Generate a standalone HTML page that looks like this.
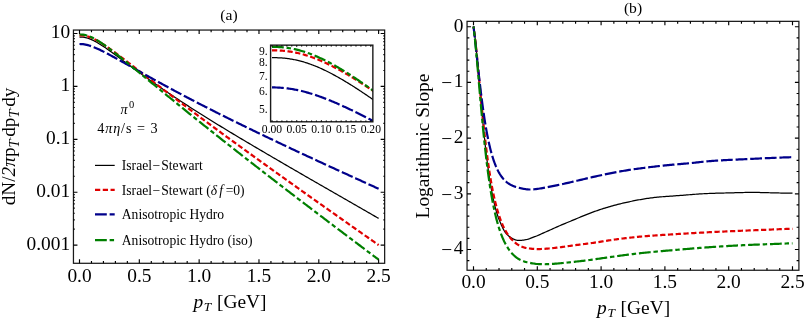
<!DOCTYPE html>
<html><head><meta charset="utf-8"><title>fig</title>
<style>html,body{margin:0;padding:0;background:#fff;}svg{display:block;}</style></head>
<body>
<svg width="806" height="322" viewBox="0 0 806 322">
<rect x="0" y="0" width="806" height="322" fill="#ffffff"/>
<defs>
<clipPath id="ca"><rect x="73.45" y="30.05" width="311.20" height="233.25"/></clipPath>
<clipPath id="ci"><rect x="270.60" y="45.15" width="102.25" height="76.65"/></clipPath>
<clipPath id="cb"><rect x="467.05" y="21.35" width="331.85" height="248.90"/></clipPath>
<filter id="gray" x="0" y="0" width="806" height="322" filterUnits="userSpaceOnUse" color-interpolation-filters="sRGB"><feColorMatrix type="saturate" values="0"/></filter>
</defs>
<path d="M79.50,37.01 L80.70,37.03 L81.89,37.09 L83.09,37.20 L84.29,37.37 L85.48,37.60 L86.68,37.89 L87.88,38.24 L89.07,38.64 L90.27,39.10 L91.47,39.60 L92.66,40.15 L93.86,40.74 L95.05,41.37 L96.25,42.03 L97.45,42.71 L98.64,43.43 L99.84,44.16 L101.04,44.92 L102.23,45.70 L103.43,46.49 L104.63,47.29 L105.82,48.11 L107.02,48.94 L108.22,49.78 L109.41,50.63 L110.61,51.49 L111.81,52.35 L113.00,53.22 L114.20,54.09 L115.40,54.96 L116.59,55.84 L117.79,56.72 L118.98,57.60 L120.18,58.49 L121.38,59.37 L122.57,60.26 L123.77,61.14 L124.97,62.03 L126.16,62.91 L127.36,63.80 L128.56,64.68 L129.75,65.56 L130.95,66.44 L132.15,67.32 L133.34,68.20 L134.54,69.07 L135.74,69.95 L136.93,70.82 L138.13,71.69 L139.32,72.55 L140.52,73.42 L141.72,74.28 L142.91,75.14 L144.11,76.00 L145.31,76.86 L146.50,77.71 L147.70,78.56 L148.90,79.41 L150.09,80.25 L151.29,81.10 L152.49,81.94 L153.68,82.78 L154.88,83.62 L156.08,84.45 L157.27,85.28 L158.47,86.11 L159.67,86.94 L160.86,87.76 L162.06,88.59 L163.25,89.41 L164.45,90.22 L165.65,91.04 L166.84,91.85 L168.04,92.66 L169.24,93.47 L170.43,94.28 L171.63,95.09 L172.83,95.89 L174.02,96.69 L175.22,97.49 L176.42,98.28 L177.61,99.08 L178.81,99.87 L180.01,100.66 L181.20,101.45 L182.40,102.23 L183.60,103.01 L184.79,103.79 L185.99,104.57 L187.19,105.35 L188.38,106.12 L189.58,106.90 L190.77,107.67 L191.97,108.44 L193.17,109.20 L194.36,109.97 L195.56,110.73 L196.76,111.49 L197.95,112.25 L199.15,113.01 L200.35,113.76 L201.54,114.52 L202.74,115.27 L203.94,116.02 L205.13,116.77 L206.33,117.52 L207.53,118.26 L208.72,119.01 L209.92,119.75 L211.12,120.49 L212.31,121.23 L213.51,121.97 L214.70,122.71 L215.90,123.45 L217.10,124.18 L218.29,124.91 L219.49,125.65 L220.69,126.38 L221.88,127.11 L223.08,127.84 L224.28,128.56 L225.47,129.29 L226.67,130.01 L227.87,130.74 L229.06,131.46 L230.26,132.18 L231.46,132.90 L232.65,133.62 L233.85,134.34 L235.05,135.06 L236.24,135.78 L237.44,136.49 L238.63,137.21 L239.83,137.92 L241.03,138.63 L242.22,139.35 L243.42,140.06 L244.62,140.77 L245.81,141.48 L247.01,142.19 L248.21,142.90 L249.40,143.61 L250.60,144.31 L251.80,145.02 L252.99,145.73 L254.19,146.43 L255.39,147.14 L256.58,147.84 L257.78,148.55 L258.98,149.25 L260.17,149.96 L261.37,150.66 L262.56,151.36 L263.76,152.06 L264.96,152.77 L266.15,153.47 L267.35,154.17 L268.55,154.87 L269.74,155.57 L270.94,156.27 L272.14,156.97 L273.33,157.67 L274.53,158.37 L275.73,159.07 L276.92,159.77 L278.12,160.47 L279.32,161.16 L280.51,161.86 L281.71,162.56 L282.90,163.25 L284.10,163.95 L285.30,164.65 L286.49,165.34 L287.69,166.04 L288.89,166.73 L290.08,167.42 L291.28,168.12 L292.48,168.81 L293.67,169.50 L294.87,170.20 L296.07,170.89 L297.26,171.58 L298.46,172.27 L299.66,172.96 L300.85,173.65 L302.05,174.35 L303.25,175.04 L304.44,175.73 L305.64,176.42 L306.84,177.11 L308.03,177.80 L309.23,178.49 L310.42,179.18 L311.62,179.87 L312.82,180.56 L314.01,181.25 L315.21,181.94 L316.41,182.63 L317.60,183.31 L318.80,184.00 L320.00,184.69 L321.19,185.38 L322.39,186.07 L323.59,186.76 L324.78,187.45 L325.98,188.13 L327.18,188.82 L328.37,189.51 L329.57,190.20 L330.76,190.89 L331.96,191.57 L333.16,192.26 L334.35,192.95 L335.55,193.63 L336.75,194.32 L337.94,195.01 L339.14,195.69 L340.34,196.38 L341.53,197.07 L342.73,197.76 L343.93,198.44 L345.12,199.13 L346.32,199.82 L347.52,200.50 L348.71,201.19 L349.91,201.88 L351.11,202.57 L352.30,203.25 L353.50,203.94 L354.70,204.63 L355.89,205.32 L357.09,206.00 L358.28,206.69 L359.48,207.38 L360.68,208.07 L361.87,208.76 L363.07,209.45 L364.27,210.14 L365.46,210.83 L366.66,211.52 L367.86,212.20 L369.05,212.89 L370.25,213.58 L371.45,214.27 L372.64,214.96 L373.84,215.65 L375.04,216.34 L376.23,217.03 L377.43,217.72 L378.62,218.41" fill="none" stroke="#000000" stroke-width="1.25" clip-path="url(#ca)"/>
<path d="M79.50,35.30 L80.70,35.32 L81.89,35.38 L83.09,35.49 L84.29,35.65 L85.48,35.88 L86.68,36.16 L87.88,36.49 L89.07,36.88 L90.27,37.31 L91.47,37.80 L92.66,38.32 L93.86,38.89 L95.05,39.49 L96.25,40.12 L97.45,40.79 L98.64,41.48 L99.84,42.19 L101.04,42.93 L102.23,43.68 L103.43,44.46 L104.63,45.25 L105.82,46.05 L107.02,46.87 L108.22,47.70 L109.41,48.54 L110.61,49.39 L111.81,50.24 L113.00,51.11 L114.20,51.98 L115.40,52.86 L116.59,53.75 L117.79,54.64 L118.98,55.53 L120.18,56.43 L121.38,57.33 L122.57,58.24 L123.77,59.14 L124.97,60.05 L126.16,60.97 L127.36,61.88 L128.56,62.80 L129.75,63.71 L130.95,64.63 L132.15,65.55 L133.34,66.47 L134.54,67.39 L135.74,68.31 L136.93,69.23 L138.13,70.15 L139.32,71.07 L140.52,72.00 L141.72,72.92 L142.91,73.84 L144.11,74.76 L145.31,75.68 L146.50,76.60 L147.70,77.52 L148.90,78.44 L150.09,79.36 L151.29,80.28 L152.49,81.20 L153.68,82.11 L154.88,83.03 L156.08,83.95 L157.27,84.86 L158.47,85.78 L159.67,86.69 L160.86,87.61 L162.06,88.52 L163.25,89.43 L164.45,90.35 L165.65,91.26 L166.84,92.17 L168.04,93.08 L169.24,93.99 L170.43,94.90 L171.63,95.80 L172.83,96.71 L174.02,97.62 L175.22,98.52 L176.42,99.43 L177.61,100.33 L178.81,101.23 L180.01,102.14 L181.20,103.04 L182.40,103.94 L183.60,104.84 L184.79,105.74 L185.99,106.64 L187.19,107.54 L188.38,108.44 L189.58,109.33 L190.77,110.23 L191.97,111.13 L193.17,112.02 L194.36,112.92 L195.56,113.81 L196.76,114.70 L197.95,115.59 L199.15,116.49 L200.35,117.38 L201.54,118.27 L202.74,119.15 L203.94,120.04 L205.13,120.93 L206.33,121.81 L207.53,122.70 L208.72,123.58 L209.92,124.47 L211.12,125.35 L212.31,126.23 L213.51,127.11 L214.70,128.00 L215.90,128.88 L217.10,129.75 L218.29,130.63 L219.49,131.51 L220.69,132.39 L221.88,133.27 L223.08,134.14 L224.28,135.02 L225.47,135.89 L226.67,136.77 L227.87,137.64 L229.06,138.51 L230.26,139.39 L231.46,140.26 L232.65,141.13 L233.85,142.00 L235.05,142.87 L236.24,143.74 L237.44,144.61 L238.63,145.48 L239.83,146.35 L241.03,147.22 L242.22,148.08 L243.42,148.95 L244.62,149.82 L245.81,150.68 L247.01,151.55 L248.21,152.42 L249.40,153.28 L250.60,154.15 L251.80,155.01 L252.99,155.88 L254.19,156.74 L255.39,157.60 L256.58,158.47 L257.78,159.33 L258.98,160.19 L260.17,161.05 L261.37,161.92 L262.56,162.78 L263.76,163.64 L264.96,164.50 L266.15,165.36 L267.35,166.22 L268.55,167.08 L269.74,167.94 L270.94,168.80 L272.14,169.66 L273.33,170.52 L274.53,171.38 L275.73,172.23 L276.92,173.09 L278.12,173.95 L279.32,174.81 L280.51,175.66 L281.71,176.52 L282.90,177.37 L284.10,178.23 L285.30,179.09 L286.49,179.94 L287.69,180.80 L288.89,181.65 L290.08,182.50 L291.28,183.36 L292.48,184.21 L293.67,185.07 L294.87,185.92 L296.07,186.77 L297.26,187.62 L298.46,188.48 L299.66,189.33 L300.85,190.18 L302.05,191.03 L303.25,191.88 L304.44,192.73 L305.64,193.58 L306.84,194.43 L308.03,195.28 L309.23,196.13 L310.42,196.98 L311.62,197.83 L312.82,198.68 L314.01,199.53 L315.21,200.38 L316.41,201.23 L317.60,202.08 L318.80,202.92 L320.00,203.77 L321.19,204.62 L322.39,205.47 L323.59,206.31 L324.78,207.16 L325.98,208.01 L327.18,208.85 L328.37,209.70 L329.57,210.55 L330.76,211.39 L331.96,212.24 L333.16,213.08 L334.35,213.93 L335.55,214.77 L336.75,215.62 L337.94,216.46 L339.14,217.31 L340.34,218.15 L341.53,218.99 L342.73,219.84 L343.93,220.68 L345.12,221.52 L346.32,222.37 L347.52,223.21 L348.71,224.05 L349.91,224.89 L351.11,225.74 L352.30,226.58 L353.50,227.42 L354.70,228.26 L355.89,229.10 L357.09,229.94 L358.28,230.78 L359.48,231.63 L360.68,232.47 L361.87,233.31 L363.07,234.15 L364.27,234.99 L365.46,235.83 L366.66,236.66 L367.86,237.50 L369.05,238.34 L370.25,239.18 L371.45,240.02 L372.64,240.86 L373.84,241.70 L375.04,242.53 L376.23,243.37 L377.43,244.21 L378.62,245.05" fill="none" stroke="#e00000" stroke-width="2.20" stroke-dasharray="5.25 2.52" clip-path="url(#ca)"/>
<path d="M79.50,44.00 L80.70,44.03 L81.89,44.10 L83.09,44.21 L84.29,44.38 L85.48,44.59 L86.68,44.85 L87.88,45.15 L89.07,45.50 L90.27,45.87 L91.47,46.28 L92.66,46.72 L93.86,47.19 L95.05,47.68 L96.25,48.20 L97.45,48.73 L98.64,49.28 L99.84,49.84 L101.04,50.42 L102.23,51.01 L103.43,51.61 L104.63,52.22 L105.82,52.84 L107.02,53.46 L108.22,54.09 L109.41,54.73 L110.61,55.37 L111.81,56.02 L113.00,56.67 L114.20,57.32 L115.40,57.98 L116.59,58.64 L117.79,59.30 L118.98,59.96 L120.18,60.63 L121.38,61.29 L122.57,61.96 L123.77,62.63 L124.97,63.30 L126.16,63.97 L127.36,64.64 L128.56,65.32 L129.75,65.99 L130.95,66.66 L132.15,67.34 L133.34,68.01 L134.54,68.69 L135.74,69.36 L136.93,70.04 L138.13,70.71 L139.32,71.38 L140.52,72.05 L141.72,72.72 L142.91,73.40 L144.11,74.06 L145.31,74.73 L146.50,75.40 L147.70,76.07 L148.90,76.73 L150.09,77.40 L151.29,78.06 L152.49,78.72 L153.68,79.38 L154.88,80.04 L156.08,80.70 L157.27,81.36 L158.47,82.02 L159.67,82.67 L160.86,83.33 L162.06,83.98 L163.25,84.64 L164.45,85.29 L165.65,85.94 L166.84,86.59 L168.04,87.23 L169.24,87.88 L170.43,88.53 L171.63,89.17 L172.83,89.81 L174.02,90.45 L175.22,91.10 L176.42,91.73 L177.61,92.37 L178.81,93.01 L180.01,93.65 L181.20,94.28 L182.40,94.91 L183.60,95.54 L184.79,96.17 L185.99,96.80 L187.19,97.43 L188.38,98.06 L189.58,98.68 L190.77,99.31 L191.97,99.93 L193.17,100.55 L194.36,101.18 L195.56,101.80 L196.76,102.41 L197.95,103.03 L199.15,103.65 L200.35,104.26 L201.54,104.88 L202.74,105.49 L203.94,106.10 L205.13,106.71 L206.33,107.32 L207.53,107.93 L208.72,108.54 L209.92,109.14 L211.12,109.75 L212.31,110.35 L213.51,110.96 L214.70,111.56 L215.90,112.16 L217.10,112.76 L218.29,113.36 L219.49,113.96 L220.69,114.56 L221.88,115.15 L223.08,115.75 L224.28,116.34 L225.47,116.94 L226.67,117.53 L227.87,118.12 L229.06,118.72 L230.26,119.31 L231.46,119.90 L232.65,120.49 L233.85,121.08 L235.05,121.66 L236.24,122.25 L237.44,122.84 L238.63,123.42 L239.83,124.01 L241.03,124.59 L242.22,125.18 L243.42,125.76 L244.62,126.34 L245.81,126.93 L247.01,127.51 L248.21,128.09 L249.40,128.67 L250.60,129.25 L251.80,129.83 L252.99,130.41 L254.19,130.98 L255.39,131.56 L256.58,132.14 L257.78,132.71 L258.98,133.29 L260.17,133.86 L261.37,134.44 L262.56,135.01 L263.76,135.59 L264.96,136.16 L266.15,136.73 L267.35,137.30 L268.55,137.87 L269.74,138.44 L270.94,139.02 L272.14,139.59 L273.33,140.16 L274.53,140.72 L275.73,141.29 L276.92,141.86 L278.12,142.43 L279.32,143.00 L280.51,143.56 L281.71,144.13 L282.90,144.70 L284.10,145.26 L285.30,145.83 L286.49,146.39 L287.69,146.95 L288.89,147.52 L290.08,148.08 L291.28,148.64 L292.48,149.20 L293.67,149.76 L294.87,150.32 L296.07,150.88 L297.26,151.44 L298.46,152.00 L299.66,152.56 L300.85,153.12 L302.05,153.67 L303.25,154.23 L304.44,154.79 L305.64,155.34 L306.84,155.90 L308.03,156.45 L309.23,157.01 L310.42,157.56 L311.62,158.12 L312.82,158.67 L314.01,159.22 L315.21,159.78 L316.41,160.33 L317.60,160.88 L318.80,161.44 L320.00,161.99 L321.19,162.54 L322.39,163.09 L323.59,163.64 L324.78,164.20 L325.98,164.75 L327.18,165.30 L328.37,165.85 L329.57,166.40 L330.76,166.95 L331.96,167.50 L333.16,168.05 L334.35,168.60 L335.55,169.15 L336.75,169.70 L337.94,170.24 L339.14,170.79 L340.34,171.34 L341.53,171.89 L342.73,172.44 L343.93,172.98 L345.12,173.53 L346.32,174.08 L347.52,174.62 L348.71,175.17 L349.91,175.72 L351.11,176.26 L352.30,176.81 L353.50,177.35 L354.70,177.90 L355.89,178.44 L357.09,178.99 L358.28,179.53 L359.48,180.08 L360.68,180.62 L361.87,181.17 L363.07,181.71 L364.27,182.25 L365.46,182.80 L366.66,183.34 L367.86,183.88 L369.05,184.42 L370.25,184.97 L371.45,185.51 L372.64,186.05 L373.84,186.59 L375.04,187.13 L376.23,187.67 L377.43,188.21 L378.62,188.76" fill="none" stroke="#00008b" stroke-width="2.20" stroke-dasharray="11.80 2.83" clip-path="url(#ca)"/>
<path d="M79.50,34.47 L80.70,34.50 L81.89,34.57 L83.09,34.70 L84.29,34.88 L85.48,35.13 L86.68,35.44 L87.88,35.81 L89.07,36.23 L90.27,36.71 L91.47,37.23 L92.66,37.80 L93.86,38.41 L95.05,39.06 L96.25,39.74 L97.45,40.45 L98.64,41.19 L99.84,41.95 L101.04,42.74 L102.23,43.55 L103.43,44.37 L104.63,45.22 L105.82,46.07 L107.02,46.94 L108.22,47.83 L109.41,48.72 L110.61,49.63 L111.81,50.54 L113.00,51.46 L114.20,52.39 L115.40,53.32 L116.59,54.27 L117.79,55.21 L118.98,56.16 L120.18,57.12 L121.38,58.08 L122.57,59.04 L123.77,60.01 L124.97,60.98 L126.16,61.95 L127.36,62.92 L128.56,63.89 L129.75,64.87 L130.95,65.84 L132.15,66.82 L133.34,67.80 L134.54,68.78 L135.74,69.76 L136.93,70.74 L138.13,71.73 L139.32,72.71 L140.52,73.69 L141.72,74.68 L142.91,75.66 L144.11,76.64 L145.31,77.63 L146.50,78.61 L147.70,79.60 L148.90,80.58 L150.09,81.56 L151.29,82.55 L152.49,83.53 L153.68,84.51 L154.88,85.50 L156.08,86.48 L157.27,87.46 L158.47,88.44 L159.67,89.42 L160.86,90.40 L162.06,91.38 L163.25,92.36 L164.45,93.34 L165.65,94.32 L166.84,95.30 L168.04,96.28 L169.24,97.25 L170.43,98.23 L171.63,99.20 L172.83,100.18 L174.02,101.15 L175.22,102.13 L176.42,103.10 L177.61,104.07 L178.81,105.05 L180.01,106.02 L181.20,106.99 L182.40,107.96 L183.60,108.93 L184.79,109.90 L185.99,110.87 L187.19,111.83 L188.38,112.80 L189.58,113.77 L190.77,114.73 L191.97,115.70 L193.17,116.66 L194.36,117.62 L195.56,118.59 L196.76,119.55 L197.95,120.51 L199.15,121.47 L200.35,122.43 L201.54,123.39 L202.74,124.35 L203.94,125.30 L205.13,126.26 L206.33,127.22 L207.53,128.17 L208.72,129.13 L209.92,130.08 L211.12,131.03 L212.31,131.98 L213.51,132.93 L214.70,133.89 L215.90,134.84 L217.10,135.78 L218.29,136.73 L219.49,137.68 L220.69,138.63 L221.88,139.57 L223.08,140.52 L224.28,141.46 L225.47,142.41 L226.67,143.35 L227.87,144.30 L229.06,145.24 L230.26,146.18 L231.46,147.12 L232.65,148.06 L233.85,149.00 L235.05,149.94 L236.24,150.88 L237.44,151.82 L238.63,152.75 L239.83,153.69 L241.03,154.63 L242.22,155.56 L243.42,156.50 L244.62,157.43 L245.81,158.37 L247.01,159.30 L248.21,160.23 L249.40,161.17 L250.60,162.10 L251.80,163.03 L252.99,163.96 L254.19,164.89 L255.39,165.82 L256.58,166.75 L257.78,167.68 L258.98,168.61 L260.17,169.54 L261.37,170.47 L262.56,171.40 L263.76,172.32 L264.96,173.25 L266.15,174.18 L267.35,175.10 L268.55,176.03 L269.74,176.95 L270.94,177.88 L272.14,178.80 L273.33,179.72 L274.53,180.65 L275.73,181.57 L276.92,182.49 L278.12,183.41 L279.32,184.33 L280.51,185.26 L281.71,186.18 L282.90,187.10 L284.10,188.02 L285.30,188.93 L286.49,189.85 L287.69,190.77 L288.89,191.69 L290.08,192.61 L291.28,193.52 L292.48,194.44 L293.67,195.36 L294.87,196.27 L296.07,197.19 L297.26,198.10 L298.46,199.02 L299.66,199.93 L300.85,200.85 L302.05,201.76 L303.25,202.67 L304.44,203.58 L305.64,204.50 L306.84,205.41 L308.03,206.32 L309.23,207.23 L310.42,208.14 L311.62,209.05 L312.82,209.96 L314.01,210.87 L315.21,211.78 L316.41,212.69 L317.60,213.60 L318.80,214.51 L320.00,215.42 L321.19,216.33 L322.39,217.23 L323.59,218.14 L324.78,219.05 L325.98,219.96 L327.18,220.86 L328.37,221.77 L329.57,222.67 L330.76,223.58 L331.96,224.49 L333.16,225.39 L334.35,226.30 L335.55,227.20 L336.75,228.11 L337.94,229.01 L339.14,229.91 L340.34,230.82 L341.53,231.72 L342.73,232.63 L343.93,233.53 L345.12,234.43 L346.32,235.34 L347.52,236.24 L348.71,237.14 L349.91,238.04 L351.11,238.94 L352.30,239.85 L353.50,240.75 L354.70,241.65 L355.89,242.55 L357.09,243.45 L358.28,244.35 L359.48,245.25 L360.68,246.15 L361.87,247.05 L363.07,247.95 L364.27,248.85 L365.46,249.75 L366.66,250.65 L367.86,251.55 L369.05,252.45 L370.25,253.35 L371.45,254.25 L372.64,255.15 L373.84,256.05 L375.04,256.94 L376.23,257.84 L377.43,258.74 L378.62,259.64" fill="none" stroke="#007f00" stroke-width="2.20" stroke-dasharray="11.80 2.83 4.44 2.83" stroke-dashoffset="4.00" clip-path="url(#ca)"/>
<path d="M272.00,57.66 L272.99,57.66 L273.98,57.67 L274.96,57.69 L275.95,57.71 L276.94,57.73 L277.93,57.77 L278.92,57.81 L279.90,57.86 L280.89,57.92 L281.88,57.99 L282.87,58.06 L283.86,58.15 L284.84,58.24 L285.83,58.35 L286.82,58.46 L287.81,58.59 L288.80,58.72 L289.78,58.86 L290.77,59.02 L291.76,59.18 L292.75,59.36 L293.74,59.54 L294.72,59.74 L295.71,59.94 L296.70,60.16 L297.69,60.39 L298.68,60.62 L299.66,60.87 L300.65,61.13 L301.64,61.39 L302.63,61.67 L303.62,61.96 L304.60,62.25 L305.59,62.56 L306.58,62.88 L307.57,63.20 L308.56,63.54 L309.54,63.88 L310.53,64.23 L311.52,64.60 L312.51,64.97 L313.50,65.35 L314.48,65.74 L315.47,66.13 L316.46,66.54 L317.45,66.95 L318.44,67.37 L319.42,67.80 L320.41,68.24 L321.40,68.69 L322.39,69.14 L323.38,69.60 L324.36,70.07 L325.35,70.54 L326.34,71.03 L327.33,71.51 L328.32,72.01 L329.30,72.51 L330.29,73.02 L331.28,73.53 L332.27,74.06 L333.26,74.58 L334.24,75.12 L335.23,75.65 L336.22,76.20 L337.21,76.75 L338.20,77.31 L339.18,77.87 L340.17,78.43 L341.16,79.00 L342.15,79.58 L343.14,80.16 L344.12,80.75 L345.11,81.34 L346.10,81.93 L347.09,82.53 L348.08,83.13 L349.06,83.74 L350.05,84.35 L351.04,84.97 L352.03,85.59 L353.02,86.21 L354.00,86.84 L354.99,87.47 L355.98,88.11 L356.97,88.75 L357.96,89.39 L358.94,90.03 L359.93,90.68 L360.92,91.33 L361.91,91.99 L362.90,92.65 L363.88,93.31 L364.87,93.97 L365.86,94.64 L366.85,95.30 L367.84,95.98 L368.82,96.65 L369.81,97.33 L370.80,98.00 L371.79,98.69 L372.78,99.37 L373.76,100.05 L374.75,100.74 L375.74,101.43" fill="none" stroke="#000000" stroke-width="1.25" clip-path="url(#ci)"/>
<path d="M272.00,50.36 L272.99,50.36 L273.98,50.37 L274.96,50.38 L275.95,50.41 L276.94,50.43 L277.93,50.47 L278.92,50.51 L279.90,50.57 L280.89,50.63 L281.88,50.69 L282.87,50.77 L283.86,50.86 L284.84,50.95 L285.83,51.05 L286.82,51.17 L287.81,51.29 L288.80,51.42 L289.78,51.56 L290.77,51.71 L291.76,51.87 L292.75,52.05 L293.74,52.23 L294.72,52.41 L295.71,52.61 L296.70,52.82 L297.69,53.04 L298.68,53.27 L299.66,53.51 L300.65,53.75 L301.64,54.01 L302.63,54.28 L303.62,54.55 L304.60,54.84 L305.59,55.13 L306.58,55.43 L307.57,55.75 L308.56,56.07 L309.54,56.40 L310.53,56.73 L311.52,57.08 L312.51,57.44 L313.50,57.80 L314.48,58.17 L315.47,58.55 L316.46,58.94 L317.45,59.34 L318.44,59.74 L319.42,60.15 L320.41,60.57 L321.40,61.00 L322.39,61.43 L323.38,61.87 L324.36,62.32 L325.35,62.77 L326.34,63.24 L327.33,63.70 L328.32,64.18 L329.30,64.66 L330.29,65.15 L331.28,65.64 L332.27,66.14 L333.26,66.65 L334.24,67.16 L335.23,67.68 L336.22,68.20 L337.21,68.73 L338.20,69.26 L339.18,69.80 L340.17,70.35 L341.16,70.90 L342.15,71.45 L343.14,72.02 L344.12,72.58 L345.11,73.15 L346.10,73.72 L347.09,74.30 L348.08,74.89 L349.06,75.47 L350.05,76.07 L351.04,76.66 L352.03,77.26 L353.02,77.87 L354.00,78.48 L354.99,79.09 L355.98,79.70 L356.97,80.32 L357.96,80.95 L358.94,81.57 L359.93,82.21 L360.92,82.84 L361.91,83.48 L362.90,84.12 L363.88,84.76 L364.87,85.41 L365.86,86.06 L366.85,86.71 L367.84,87.37 L368.82,88.03 L369.81,88.69 L370.80,89.35 L371.79,90.02 L372.78,90.69 L373.76,91.36 L374.75,92.04 L375.74,92.72" fill="none" stroke="#e00000" stroke-width="2.20" stroke-dasharray="5.25 2.52" clip-path="url(#ci)"/>
<path d="M272.00,87.42 L272.99,87.43 L273.98,87.44 L274.96,87.46 L275.95,87.48 L276.94,87.52 L277.93,87.56 L278.92,87.61 L279.90,87.67 L280.89,87.74 L281.88,87.81 L282.87,87.90 L283.86,87.99 L284.84,88.09 L285.83,88.20 L286.82,88.32 L287.81,88.44 L288.80,88.58 L289.78,88.72 L290.77,88.87 L291.76,89.03 L292.75,89.19 L293.74,89.37 L294.72,89.55 L295.71,89.74 L296.70,89.94 L297.69,90.14 L298.68,90.36 L299.66,90.58 L300.65,90.81 L301.64,91.04 L302.63,91.28 L303.62,91.53 L304.60,91.79 L305.59,92.05 L306.58,92.33 L307.57,92.60 L308.56,92.89 L309.54,93.18 L310.53,93.47 L311.52,93.78 L312.51,94.09 L313.50,94.40 L314.48,94.73 L315.47,95.05 L316.46,95.39 L317.45,95.72 L318.44,96.07 L319.42,96.42 L320.41,96.77 L321.40,97.13 L322.39,97.50 L323.38,97.87 L324.36,98.24 L325.35,98.62 L326.34,99.01 L327.33,99.40 L328.32,99.79 L329.30,100.19 L330.29,100.59 L331.28,101.00 L332.27,101.41 L333.26,101.82 L334.24,102.24 L335.23,102.67 L336.22,103.09 L337.21,103.52 L338.20,103.95 L339.18,104.39 L340.17,104.83 L341.16,105.28 L342.15,105.72 L343.14,106.17 L344.12,106.63 L345.11,107.08 L346.10,107.54 L347.09,108.00 L348.08,108.47 L349.06,108.94 L350.05,109.41 L351.04,109.88 L352.03,110.36 L353.02,110.83 L354.00,111.31 L354.99,111.80 L355.98,112.28 L356.97,112.77 L357.96,113.26 L358.94,113.75 L359.93,114.25 L360.92,114.74 L361.91,115.24 L362.90,115.74 L363.88,116.24 L364.87,116.75 L365.86,117.25 L366.85,117.76 L367.84,118.27 L368.82,118.78 L369.81,119.29 L370.80,119.81 L371.79,120.32 L372.78,120.84 L373.76,121.36 L374.75,121.88 L375.74,122.40" fill="none" stroke="#00008b" stroke-width="2.20" stroke-dasharray="11.80 2.83" clip-path="url(#ci)"/>
<path d="M272.00,46.85 L272.99,46.85 L273.98,46.86 L274.96,46.88 L275.95,46.91 L276.94,46.94 L277.93,46.98 L278.92,47.04 L279.90,47.10 L280.89,47.17 L281.88,47.25 L282.87,47.34 L283.86,47.44 L284.84,47.55 L285.83,47.66 L286.82,47.79 L287.81,47.93 L288.80,48.08 L289.78,48.24 L290.77,48.41 L291.76,48.59 L292.75,48.79 L293.74,48.99 L294.72,49.20 L295.71,49.42 L296.70,49.66 L297.69,49.90 L298.68,50.15 L299.66,50.42 L300.65,50.69 L301.64,50.97 L302.63,51.27 L303.62,51.57 L304.60,51.88 L305.59,52.21 L306.58,52.54 L307.57,52.88 L308.56,53.23 L309.54,53.59 L310.53,53.96 L311.52,54.34 L312.51,54.73 L313.50,55.13 L314.48,55.53 L315.47,55.94 L316.46,56.37 L317.45,56.80 L318.44,57.23 L319.42,57.68 L320.41,58.13 L321.40,58.60 L322.39,59.07 L323.38,59.54 L324.36,60.03 L325.35,60.52 L326.34,61.02 L327.33,61.52 L328.32,62.03 L329.30,62.55 L330.29,63.08 L331.28,63.61 L332.27,64.15 L333.26,64.69 L334.24,65.25 L335.23,65.80 L336.22,66.37 L337.21,66.93 L338.20,67.51 L339.18,68.09 L340.17,68.67 L341.16,69.26 L342.15,69.86 L343.14,70.46 L344.12,71.07 L345.11,71.68 L346.10,72.29 L347.09,72.91 L348.08,73.54 L349.06,74.17 L350.05,74.80 L351.04,75.44 L352.03,76.08 L353.02,76.73 L354.00,77.38 L354.99,78.03 L355.98,78.69 L356.97,79.36 L357.96,80.02 L358.94,80.69 L359.93,81.37 L360.92,82.04 L361.91,82.72 L362.90,83.41 L363.88,84.10 L364.87,84.79 L365.86,85.48 L366.85,86.18 L367.84,86.88 L368.82,87.58 L369.81,88.29 L370.80,89.00 L371.79,89.71 L372.78,90.42 L373.76,91.14 L374.75,91.86 L375.74,92.58" fill="none" stroke="#007f00" stroke-width="2.20" stroke-dasharray="11.80 2.83 4.44 2.83" clip-path="url(#ci)"/>
<path d="M473.50,26.50 L473.76,27.94 L474.01,29.55 L474.27,31.31 L474.52,33.20 L474.78,35.22 L475.03,37.36 L475.29,39.60 L475.54,41.94 L475.80,44.36 L476.05,46.87 L476.31,49.44 L476.56,52.07 L476.82,54.77 L477.07,57.51 L477.33,60.29 L477.58,63.11 L477.84,65.95 L478.09,68.83 L478.35,71.72 L478.60,74.63 L478.86,77.54 L479.11,80.47 L479.37,83.39 L479.62,86.31 L479.88,89.23 L480.14,92.14 L480.39,95.04 L480.65,97.92 L480.90,100.78 L481.16,103.63 L481.41,106.45 L481.67,109.25 L481.92,112.02 L482.18,114.77 L482.43,117.48 L482.69,120.16 L482.94,122.82 L483.20,125.43 L483.45,128.02 L483.71,130.56 L483.96,133.07 L484.22,135.55 L484.47,137.98 L484.73,140.38 L484.98,142.74 L485.24,145.06 L485.49,147.34 L485.75,149.59 L486.00,151.79 L486.26,153.95 L486.52,156.07 L486.77,158.16 L487.03,160.20 L487.28,162.21 L487.54,164.18 L487.79,166.10 L488.05,167.99 L488.30,169.84 L488.56,171.66 L488.81,173.43 L489.07,175.17 L489.32,176.88 L489.58,178.54 L489.83,180.17 L490.09,181.77 L490.34,183.33 L490.60,184.86 L490.85,186.35 L491.11,187.81 L491.36,189.24 L491.62,190.64 L491.87,192.00 L492.13,193.33 L492.38,194.63 L492.64,195.91 L492.90,197.15 L493.15,198.36 L493.41,199.55 L493.66,200.71 L493.92,201.84 L494.17,202.94 L494.43,204.02 L494.68,205.07 L494.94,206.10 L495.19,207.10 L495.45,208.08 L495.70,209.04 L495.96,209.97 L496.21,210.88 L496.47,211.77 L496.72,212.63 L496.98,213.47 L497.23,214.28 L497.49,215.07 L497.74,215.83 L498.00,216.57 L498.25,217.30 L498.51,218.00 L498.76,218.68 L499.02,219.35 L499.28,220.00 L499.53,220.64 L499.79,221.27 L500.04,221.89 L500.30,222.51 L500.55,223.11 L500.81,223.70 L501.06,224.29 L501.32,224.87 L501.57,225.44 L501.83,226.00 L502.08,226.55 L502.34,227.09 L502.59,227.62 L502.85,228.14 L503.10,228.65 L503.36,229.15 L503.61,229.63 L503.87,230.10 L504.12,230.55 L504.38,230.98 L504.63,231.40 L504.89,231.80 L505.14,232.18 L505.40,232.54 L505.66,232.89 L505.91,233.22 L506.17,233.53 L506.42,233.84 L506.68,234.12 L506.93,234.40 L507.19,234.66 L507.44,234.91 L507.70,235.15 L507.95,235.38 L508.21,235.61 L508.46,235.82 L508.72,236.03 L508.97,236.23 L509.23,236.43 L509.48,236.62 L509.74,236.81 L509.99,236.99 L510.25,237.17 L510.50,237.34 L510.76,237.51 L511.01,237.67 L511.27,237.83 L511.52,237.99 L511.78,238.14 L512.04,238.29 L512.29,238.43 L512.55,238.57 L512.80,238.71 L513.06,238.84 L513.31,238.97 L513.57,239.09 L513.82,239.21 L514.08,239.33 L514.33,239.44 L514.59,239.55 L514.84,239.65 L515.10,239.75 L515.35,239.84 L515.61,239.93 L515.86,240.01 L516.12,240.08 L516.37,240.15 L516.63,240.21 L516.88,240.26 L517.14,240.31 L517.39,240.34 L517.65,240.38 L517.90,240.40 L518.16,240.42 L518.42,240.43 L518.67,240.44 L518.93,240.44 L519.18,240.44 L519.44,240.43 L519.69,240.42 L519.95,240.41 L520.20,240.40 L520.46,240.38 L520.71,240.36 L520.97,240.35 L521.22,240.33 L521.48,240.30 L521.73,240.28 L521.99,240.26 L522.24,240.24 L522.50,240.21 L522.75,240.19 L523.01,240.16 L523.26,240.13 L523.52,240.10 L523.77,240.07 L524.03,240.04 L524.28,240.00 L524.54,239.96 L525.82,239.74 L527.09,239.44 L528.37,239.06 L529.64,238.63 L530.92,238.15 L532.20,237.67 L533.47,237.19 L534.75,236.71 L536.02,236.23 L537.30,235.72 L538.58,235.19 L539.85,234.63 L541.13,234.04 L542.40,233.44 L543.68,232.85 L544.96,232.28 L546.23,231.72 L547.51,231.17 L548.78,230.61 L550.06,230.04 L551.34,229.46 L552.61,228.87 L553.89,228.28 L555.16,227.70 L556.44,227.13 L557.72,226.56 L558.99,226.00 L560.27,225.45 L561.54,224.90 L562.82,224.36 L564.10,223.83 L565.37,223.30 L566.65,222.78 L567.92,222.26 L569.20,221.73 L570.48,221.21 L571.75,220.68 L573.03,220.15 L574.30,219.62 L575.58,219.08 L576.86,218.54 L578.13,218.01 L579.41,217.47 L580.68,216.93 L581.96,216.40 L583.24,215.87 L584.51,215.35 L585.79,214.83 L587.06,214.32 L588.34,213.82 L589.62,213.32 L590.89,212.84 L592.17,212.37 L593.44,211.90 L594.72,211.44 L596.00,211.00 L597.27,210.56 L598.55,210.12 L599.82,209.70 L601.10,209.28 L602.38,208.87 L603.65,208.47 L604.93,208.07 L606.20,207.68 L607.48,207.29 L608.76,206.92 L610.03,206.55 L611.31,206.18 L612.58,205.82 L613.86,205.47 L615.14,205.13 L616.41,204.79 L617.69,204.46 L618.96,204.14 L620.24,203.82 L621.52,203.51 L622.79,203.21 L624.07,202.91 L625.34,202.62 L626.62,202.33 L627.90,202.05 L629.17,201.77 L630.45,201.50 L631.72,201.24 L633.00,200.98 L634.28,200.72 L635.55,200.47 L636.83,200.22 L638.10,199.98 L639.38,199.75 L640.66,199.52 L641.93,199.30 L643.21,199.08 L644.48,198.87 L645.76,198.67 L647.04,198.48 L648.31,198.29 L649.59,198.11 L650.86,197.94 L652.14,197.78 L653.42,197.63 L654.69,197.48 L655.97,197.34 L657.24,197.21 L658.52,197.09 L659.80,196.97 L661.07,196.86 L662.35,196.75 L663.62,196.65 L664.90,196.55 L666.18,196.46 L667.45,196.36 L668.73,196.27 L670.00,196.18 L671.28,196.10 L672.56,196.01 L673.83,195.92 L675.11,195.83 L676.38,195.74 L677.66,195.64 L678.94,195.55 L680.21,195.45 L681.49,195.36 L682.76,195.26 L684.04,195.16 L685.32,195.06 L686.59,194.96 L687.87,194.85 L689.14,194.75 L690.42,194.65 L691.70,194.55 L692.97,194.45 L694.25,194.35 L695.52,194.25 L696.80,194.16 L698.08,194.07 L699.35,193.98 L700.63,193.90 L701.90,193.82 L703.18,193.75 L704.46,193.68 L705.73,193.62 L707.01,193.56 L708.28,193.50 L709.56,193.45 L710.84,193.41 L712.11,193.36 L713.39,193.32 L714.66,193.28 L715.94,193.24 L717.22,193.20 L718.49,193.17 L719.77,193.13 L721.04,193.10 L722.32,193.07 L723.60,193.03 L724.87,193.00 L726.15,192.97 L727.42,192.93 L728.70,192.90 L729.98,192.86 L731.25,192.83 L732.53,192.79 L733.80,192.76 L735.08,192.72 L736.36,192.69 L737.63,192.66 L738.91,192.62 L740.18,192.59 L741.46,192.56 L742.74,192.53 L744.01,192.50 L745.29,192.48 L746.56,192.46 L747.84,192.44 L749.12,192.42 L750.39,192.41 L751.67,192.41 L752.94,192.41 L754.22,192.41 L755.50,192.42 L756.77,192.44 L758.05,192.46 L759.32,192.48 L760.60,192.51 L761.88,192.54 L763.15,192.57 L764.43,192.60 L765.70,192.64 L766.98,192.68 L768.26,192.72 L769.53,192.75 L770.81,192.79 L772.08,192.83 L773.36,192.86 L774.64,192.89 L775.91,192.92 L777.19,192.95 L778.46,192.98 L779.74,193.00 L781.02,193.02 L782.29,193.04 L783.57,193.06 L784.84,193.08 L786.12,193.10 L787.40,193.12 L788.67,193.13 L789.95,193.14 L791.22,193.16 L792.50,193.17" fill="none" stroke="#000000" stroke-width="1.25" clip-path="url(#cb)"/>
<path d="M473.50,26.50 L473.76,28.10 L474.01,29.83 L474.27,31.67 L474.52,33.62 L474.78,35.66 L475.03,37.80 L475.29,40.02 L475.54,42.31 L475.80,44.67 L476.05,47.09 L476.31,49.56 L476.56,52.09 L476.82,54.65 L477.07,57.26 L477.33,59.90 L477.58,62.56 L477.84,65.25 L478.09,67.96 L478.35,70.69 L478.60,73.42 L478.86,76.16 L479.11,78.91 L479.37,81.66 L479.62,84.40 L479.88,87.14 L480.14,89.87 L480.39,92.59 L480.65,95.30 L480.90,97.99 L481.16,100.66 L481.41,103.32 L481.67,105.95 L481.92,108.56 L482.18,111.15 L482.43,113.71 L482.69,116.25 L482.94,118.76 L483.20,121.23 L483.45,123.68 L483.71,126.10 L483.96,128.49 L484.22,130.84 L484.47,133.17 L484.73,135.46 L484.98,137.71 L485.24,139.94 L485.49,142.12 L485.75,144.28 L486.00,146.40 L486.26,148.49 L486.52,150.54 L486.77,152.56 L487.03,154.54 L487.28,156.49 L487.54,158.41 L487.79,160.29 L488.05,162.14 L488.30,163.96 L488.56,165.74 L488.81,167.49 L489.07,169.21 L489.32,170.89 L489.58,172.55 L489.83,174.17 L490.09,175.77 L490.34,177.33 L490.60,178.86 L490.85,180.36 L491.11,181.84 L491.36,183.28 L491.62,184.70 L491.87,186.09 L492.13,187.45 L492.38,188.78 L492.64,190.09 L492.90,191.37 L493.15,192.63 L493.41,193.86 L493.66,195.06 L493.92,196.24 L494.17,197.40 L494.43,198.54 L494.68,199.65 L494.94,200.74 L495.19,201.80 L495.45,202.85 L495.70,203.87 L495.96,204.88 L496.21,205.86 L496.47,206.82 L496.72,207.76 L496.98,208.69 L497.23,209.59 L497.49,210.48 L497.74,211.34 L498.00,212.19 L498.25,213.03 L498.51,213.84 L498.76,214.64 L499.02,215.42 L499.28,216.19 L499.53,216.94 L499.79,217.68 L500.04,218.40 L500.30,219.10 L500.55,219.79 L500.81,220.47 L501.06,221.13 L501.32,221.78 L501.57,222.42 L501.83,223.04 L502.08,223.65 L502.34,224.25 L502.59,224.83 L502.85,225.40 L503.10,225.97 L503.36,226.51 L503.61,227.05 L503.87,227.58 L504.12,228.10 L504.38,228.60 L504.63,229.10 L504.89,229.58 L505.14,230.06 L505.40,230.53 L505.66,230.98 L505.91,231.43 L506.17,231.87 L506.42,232.29 L506.68,232.71 L506.93,233.12 L507.19,233.53 L507.44,233.92 L507.70,234.31 L507.95,234.69 L508.21,235.06 L508.46,235.42 L508.72,235.77 L508.97,236.12 L509.23,236.46 L509.48,236.80 L509.74,237.12 L509.99,237.44 L510.25,237.75 L510.50,238.06 L510.76,238.36 L511.01,238.66 L511.27,238.94 L511.52,239.23 L511.78,239.50 L512.04,239.77 L512.29,240.04 L512.55,240.30 L512.80,240.55 L513.06,240.80 L513.31,241.05 L513.57,241.29 L513.82,241.53 L514.08,241.76 L514.33,241.99 L514.59,242.21 L514.84,242.43 L515.10,242.64 L515.35,242.85 L515.61,243.06 L515.86,243.25 L516.12,243.45 L516.37,243.64 L516.63,243.83 L516.88,244.01 L517.14,244.18 L517.39,244.36 L517.65,244.52 L517.90,244.69 L518.16,244.85 L518.42,245.00 L518.67,245.15 L518.93,245.30 L519.18,245.44 L519.44,245.58 L519.69,245.71 L519.95,245.84 L520.20,245.97 L520.46,246.09 L520.71,246.21 L520.97,246.32 L521.22,246.43 L521.48,246.54 L521.73,246.64 L521.99,246.74 L522.24,246.84 L522.50,246.93 L522.75,247.02 L523.01,247.10 L523.26,247.19 L523.52,247.27 L523.77,247.34 L524.03,247.42 L524.28,247.49 L524.54,247.56 L525.82,247.86 L527.09,248.11 L528.37,248.32 L529.64,248.49 L530.92,248.64 L532.20,248.78 L533.47,248.88 L534.75,248.96 L536.02,249.01 L537.30,249.04 L538.58,249.04 L539.85,249.03 L541.13,248.99 L542.40,248.94 L543.68,248.87 L544.96,248.79 L546.23,248.70 L547.51,248.60 L548.78,248.50 L550.06,248.38 L551.34,248.26 L552.61,248.13 L553.89,247.99 L555.16,247.85 L556.44,247.71 L557.72,247.56 L558.99,247.40 L560.27,247.24 L561.54,247.08 L562.82,246.91 L564.10,246.74 L565.37,246.56 L566.65,246.38 L567.92,246.20 L569.20,246.02 L570.48,245.84 L571.75,245.66 L573.03,245.48 L574.30,245.30 L575.58,245.13 L576.86,244.96 L578.13,244.79 L579.41,244.62 L580.68,244.46 L581.96,244.30 L583.24,244.14 L584.51,243.98 L585.79,243.82 L587.06,243.66 L588.34,243.50 L589.62,243.34 L590.89,243.16 L592.17,242.99 L593.44,242.81 L594.72,242.62 L596.00,242.43 L597.27,242.24 L598.55,242.04 L599.82,241.84 L601.10,241.64 L602.38,241.44 L603.65,241.23 L604.93,241.03 L606.20,240.83 L607.48,240.63 L608.76,240.43 L610.03,240.24 L611.31,240.05 L612.58,239.87 L613.86,239.69 L615.14,239.51 L616.41,239.33 L617.69,239.16 L618.96,239.00 L620.24,238.83 L621.52,238.67 L622.79,238.51 L624.07,238.36 L625.34,238.21 L626.62,238.06 L627.90,237.91 L629.17,237.77 L630.45,237.63 L631.72,237.49 L633.00,237.35 L634.28,237.22 L635.55,237.09 L636.83,236.96 L638.10,236.84 L639.38,236.72 L640.66,236.60 L641.93,236.48 L643.21,236.37 L644.48,236.26 L645.76,236.16 L647.04,236.05 L648.31,235.95 L649.59,235.85 L650.86,235.75 L652.14,235.66 L653.42,235.57 L654.69,235.48 L655.97,235.39 L657.24,235.30 L658.52,235.22 L659.80,235.13 L661.07,235.05 L662.35,234.97 L663.62,234.89 L664.90,234.81 L666.18,234.73 L667.45,234.65 L668.73,234.57 L670.00,234.49 L671.28,234.41 L672.56,234.34 L673.83,234.26 L675.11,234.18 L676.38,234.10 L677.66,234.02 L678.94,233.95 L680.21,233.87 L681.49,233.79 L682.76,233.71 L684.04,233.64 L685.32,233.56 L686.59,233.48 L687.87,233.41 L689.14,233.33 L690.42,233.25 L691.70,233.18 L692.97,233.10 L694.25,233.03 L695.52,232.96 L696.80,232.88 L698.08,232.81 L699.35,232.74 L700.63,232.67 L701.90,232.60 L703.18,232.53 L704.46,232.46 L705.73,232.39 L707.01,232.33 L708.28,232.26 L709.56,232.20 L710.84,232.13 L712.11,232.07 L713.39,232.01 L714.66,231.95 L715.94,231.88 L717.22,231.82 L718.49,231.76 L719.77,231.71 L721.04,231.65 L722.32,231.59 L723.60,231.53 L724.87,231.48 L726.15,231.42 L727.42,231.36 L728.70,231.31 L729.98,231.25 L731.25,231.20 L732.53,231.14 L733.80,231.09 L735.08,231.03 L736.36,230.98 L737.63,230.93 L738.91,230.87 L740.18,230.82 L741.46,230.77 L742.74,230.71 L744.01,230.66 L745.29,230.61 L746.56,230.56 L747.84,230.50 L749.12,230.45 L750.39,230.40 L751.67,230.35 L752.94,230.30 L754.22,230.25 L755.50,230.20 L756.77,230.14 L758.05,230.09 L759.32,230.04 L760.60,229.99 L761.88,229.94 L763.15,229.89 L764.43,229.84 L765.70,229.79 L766.98,229.73 L768.26,229.68 L769.53,229.63 L770.81,229.58 L772.08,229.52 L773.36,229.47 L774.64,229.42 L775.91,229.37 L777.19,229.31 L778.46,229.26 L779.74,229.21 L781.02,229.16 L782.29,229.11 L783.57,229.06 L784.84,229.01 L786.12,228.96 L787.40,228.92 L788.67,228.88 L789.95,228.85 L791.22,228.82 L792.50,228.79" fill="none" stroke="#e00000" stroke-width="2.20" stroke-dasharray="5.25 2.52" stroke-dashoffset="2.70" clip-path="url(#cb)"/>
<path d="M473.50,26.50 L473.76,28.63 L474.01,30.81 L474.27,33.02 L474.52,35.26 L474.78,37.53 L475.03,39.82 L475.29,42.13 L475.54,44.45 L475.80,46.79 L476.05,49.14 L476.31,51.49 L476.56,53.85 L476.82,56.21 L477.07,58.57 L477.33,60.92 L477.58,63.26 L477.84,65.60 L478.09,67.92 L478.35,70.24 L478.60,72.53 L478.86,74.81 L479.11,77.08 L479.37,79.32 L479.62,81.54 L479.88,83.74 L480.14,85.91 L480.39,88.06 L480.65,90.19 L480.90,92.29 L481.16,94.36 L481.41,96.40 L481.67,98.42 L481.92,100.40 L482.18,102.35 L482.43,104.28 L482.69,106.17 L482.94,108.04 L483.20,109.87 L483.45,111.67 L483.71,113.44 L483.96,115.18 L484.22,116.88 L484.47,118.56 L484.73,120.20 L484.98,121.81 L485.24,123.39 L485.49,124.94 L485.75,126.46 L486.00,127.95 L486.26,129.41 L486.52,130.84 L486.77,132.24 L487.03,133.61 L487.28,134.95 L487.54,136.26 L487.79,137.55 L488.05,138.81 L488.30,140.04 L488.56,141.24 L488.81,142.41 L489.07,143.56 L489.32,144.69 L489.58,145.79 L489.83,146.86 L490.09,147.92 L490.34,148.94 L490.60,149.95 L490.85,150.93 L491.11,151.88 L491.36,152.82 L491.62,153.74 L491.87,154.63 L492.13,155.50 L492.38,156.35 L492.64,157.19 L492.90,158.00 L493.15,158.79 L493.41,159.57 L493.66,160.32 L493.92,161.06 L494.17,161.78 L494.43,162.49 L494.68,163.18 L494.94,163.85 L495.19,164.50 L495.45,165.14 L495.70,165.77 L495.96,166.38 L496.21,166.97 L496.47,167.55 L496.72,168.12 L496.98,168.67 L497.23,169.21 L497.49,169.74 L497.74,170.25 L498.00,170.75 L498.25,171.24 L498.51,171.72 L498.76,172.19 L499.02,172.64 L499.28,173.09 L499.53,173.52 L499.79,173.94 L500.04,174.35 L500.30,174.75 L500.55,175.15 L500.81,175.53 L501.06,175.90 L501.32,176.27 L501.57,176.62 L501.83,176.97 L502.08,177.31 L502.34,177.63 L502.59,177.96 L502.85,178.27 L503.10,178.57 L503.36,178.87 L503.61,179.16 L503.87,179.44 L504.12,179.72 L504.38,179.99 L504.63,180.25 L504.89,180.51 L505.14,180.76 L505.40,181.00 L505.66,181.24 L505.91,181.47 L506.17,181.69 L506.42,181.91 L506.68,182.12 L506.93,182.33 L507.19,182.53 L507.44,182.73 L507.70,182.92 L507.95,183.11 L508.21,183.29 L508.46,183.46 L508.72,183.64 L508.97,183.80 L509.23,183.97 L509.48,184.13 L509.74,184.28 L509.99,184.43 L510.25,184.58 L510.50,184.72 L510.76,184.86 L511.01,184.99 L511.27,185.12 L511.52,185.25 L511.78,185.37 L512.04,185.49 L512.29,185.60 L512.55,185.72 L512.80,185.83 L513.06,185.93 L513.31,186.04 L513.57,186.14 L513.82,186.23 L514.08,186.33 L514.33,186.42 L514.59,186.51 L514.84,186.60 L515.10,186.69 L515.35,186.77 L515.61,186.86 L515.86,186.94 L516.12,187.02 L516.37,187.09 L516.63,187.17 L516.88,187.24 L517.14,187.32 L517.39,187.39 L517.65,187.46 L517.90,187.53 L518.16,187.60 L518.42,187.66 L518.67,187.73 L518.93,187.79 L519.18,187.86 L519.44,187.92 L519.69,187.98 L519.95,188.04 L520.20,188.11 L520.46,188.16 L520.71,188.22 L520.97,188.28 L521.22,188.34 L521.48,188.39 L521.73,188.45 L521.99,188.50 L522.24,188.56 L522.50,188.61 L522.75,188.66 L523.01,188.71 L523.26,188.76 L523.52,188.81 L523.77,188.85 L524.03,188.90 L524.28,188.95 L524.54,188.99 L525.82,189.19 L527.09,189.34 L528.37,189.45 L529.64,189.50 L530.92,189.48 L532.20,189.42 L533.47,189.33 L534.75,189.21 L536.02,189.06 L537.30,188.90 L538.58,188.72 L539.85,188.52 L541.13,188.31 L542.40,188.09 L543.68,187.86 L544.96,187.62 L546.23,187.38 L547.51,187.13 L548.78,186.88 L550.06,186.62 L551.34,186.37 L552.61,186.11 L553.89,185.85 L555.16,185.59 L556.44,185.32 L557.72,185.06 L558.99,184.79 L560.27,184.52 L561.54,184.25 L562.82,183.98 L564.10,183.70 L565.37,183.42 L566.65,183.14 L567.92,182.85 L569.20,182.56 L570.48,182.27 L571.75,181.98 L573.03,181.68 L574.30,181.38 L575.58,181.08 L576.86,180.78 L578.13,180.47 L579.41,180.17 L580.68,179.87 L581.96,179.56 L583.24,179.26 L584.51,178.96 L585.79,178.66 L587.06,178.36 L588.34,178.07 L589.62,177.77 L590.89,177.48 L592.17,177.19 L593.44,176.90 L594.72,176.62 L596.00,176.33 L597.27,176.05 L598.55,175.77 L599.82,175.49 L601.10,175.22 L602.38,174.94 L603.65,174.67 L604.93,174.40 L606.20,174.13 L607.48,173.87 L608.76,173.61 L610.03,173.35 L611.31,173.09 L612.58,172.84 L613.86,172.59 L615.14,172.35 L616.41,172.11 L617.69,171.87 L618.96,171.64 L620.24,171.42 L621.52,171.19 L622.79,170.97 L624.07,170.76 L625.34,170.55 L626.62,170.34 L627.90,170.14 L629.17,169.94 L630.45,169.75 L631.72,169.56 L633.00,169.37 L634.28,169.19 L635.55,169.01 L636.83,168.83 L638.10,168.65 L639.38,168.48 L640.66,168.31 L641.93,168.14 L643.21,167.98 L644.48,167.81 L645.76,167.65 L647.04,167.49 L648.31,167.33 L649.59,167.18 L650.86,167.02 L652.14,166.87 L653.42,166.72 L654.69,166.57 L655.97,166.43 L657.24,166.28 L658.52,166.14 L659.80,166.00 L661.07,165.86 L662.35,165.72 L663.62,165.58 L664.90,165.45 L666.18,165.32 L667.45,165.19 L668.73,165.06 L670.00,164.94 L671.28,164.82 L672.56,164.70 L673.83,164.59 L675.11,164.47 L676.38,164.36 L677.66,164.25 L678.94,164.15 L680.21,164.04 L681.49,163.93 L682.76,163.83 L684.04,163.72 L685.32,163.61 L686.59,163.49 L687.87,163.37 L689.14,163.25 L690.42,163.13 L691.70,163.00 L692.97,162.86 L694.25,162.73 L695.52,162.59 L696.80,162.45 L698.08,162.30 L699.35,162.16 L700.63,162.02 L701.90,161.88 L703.18,161.74 L704.46,161.61 L705.73,161.48 L707.01,161.36 L708.28,161.24 L709.56,161.13 L710.84,161.03 L712.11,160.93 L713.39,160.83 L714.66,160.74 L715.94,160.66 L717.22,160.57 L718.49,160.50 L719.77,160.42 L721.04,160.35 L722.32,160.28 L723.60,160.21 L724.87,160.15 L726.15,160.08 L727.42,160.02 L728.70,159.96 L729.98,159.89 L731.25,159.83 L732.53,159.77 L733.80,159.71 L735.08,159.65 L736.36,159.59 L737.63,159.53 L738.91,159.47 L740.18,159.41 L741.46,159.35 L742.74,159.29 L744.01,159.23 L745.29,159.17 L746.56,159.11 L747.84,159.05 L749.12,158.99 L750.39,158.93 L751.67,158.87 L752.94,158.81 L754.22,158.75 L755.50,158.69 L756.77,158.63 L758.05,158.57 L759.32,158.51 L760.60,158.45 L761.88,158.40 L763.15,158.34 L764.43,158.28 L765.70,158.22 L766.98,158.16 L768.26,158.11 L769.53,158.05 L770.81,157.99 L772.08,157.94 L773.36,157.88 L774.64,157.82 L775.91,157.77 L777.19,157.71 L778.46,157.66 L779.74,157.61 L781.02,157.55 L782.29,157.50 L783.57,157.45 L784.84,157.41 L786.12,157.36 L787.40,157.32 L788.67,157.28 L789.95,157.24 L791.22,157.21 L792.50,157.18" fill="none" stroke="#00008b" stroke-width="2.20" stroke-dasharray="11.80 2.83" stroke-dashoffset="0.80" clip-path="url(#cb)"/>
<path d="M473.50,26.50 L473.76,28.50 L474.01,30.61 L474.27,32.82 L474.52,35.12 L474.78,37.52 L475.03,39.98 L475.29,42.52 L475.54,45.13 L475.80,47.79 L476.05,50.50 L476.31,53.26 L476.56,56.06 L476.82,58.90 L477.07,61.76 L477.33,64.65 L477.58,67.56 L477.84,70.48 L478.09,73.42 L478.35,76.37 L478.60,79.32 L478.86,82.27 L479.11,85.22 L479.37,88.16 L479.62,91.09 L479.88,94.02 L480.14,96.93 L480.39,99.82 L480.65,102.70 L480.90,105.56 L481.16,108.39 L481.41,111.20 L481.67,113.99 L481.92,116.74 L482.18,119.47 L482.43,122.17 L482.69,124.84 L482.94,127.48 L483.20,130.08 L483.45,132.66 L483.71,135.19 L483.96,137.70 L484.22,140.16 L484.47,142.59 L484.73,144.99 L484.98,147.35 L485.24,149.67 L485.49,151.96 L485.75,154.21 L486.00,156.42 L486.26,158.60 L486.52,160.74 L486.77,162.84 L487.03,164.91 L487.28,166.94 L487.54,168.93 L487.79,170.89 L488.05,172.81 L488.30,174.70 L488.56,176.55 L488.81,178.37 L489.07,180.15 L489.32,181.90 L489.58,183.62 L489.83,185.31 L490.09,186.96 L490.34,188.58 L490.60,190.17 L490.85,191.73 L491.11,193.25 L491.36,194.75 L491.62,196.22 L491.87,197.66 L492.13,199.07 L492.38,200.45 L492.64,201.80 L492.90,203.13 L493.15,204.43 L493.41,205.71 L493.66,206.96 L493.92,208.18 L494.17,209.38 L494.43,210.55 L494.68,211.70 L494.94,212.83 L495.19,213.94 L495.45,215.02 L495.70,216.08 L495.96,217.12 L496.21,218.13 L496.47,219.13 L496.72,220.11 L496.98,221.06 L497.23,222.00 L497.49,222.92 L497.74,223.82 L498.00,224.70 L498.25,225.56 L498.51,226.41 L498.76,227.23 L499.02,228.05 L499.28,228.84 L499.53,229.62 L499.79,230.38 L500.04,231.13 L500.30,231.86 L500.55,232.58 L500.81,233.28 L501.06,233.97 L501.32,234.64 L501.57,235.30 L501.83,235.95 L502.08,236.58 L502.34,237.21 L502.59,237.81 L502.85,238.41 L503.10,238.99 L503.36,239.57 L503.61,240.13 L503.87,240.68 L504.12,241.22 L504.38,241.74 L504.63,242.26 L504.89,242.77 L505.14,243.26 L505.40,243.75 L505.66,244.23 L505.91,244.69 L506.17,245.15 L506.42,245.60 L506.68,246.04 L506.93,246.47 L507.19,246.89 L507.44,247.30 L507.70,247.71 L507.95,248.10 L508.21,248.49 L508.46,248.87 L508.72,249.25 L508.97,249.61 L509.23,249.97 L509.48,250.32 L509.74,250.67 L509.99,251.01 L510.25,251.34 L510.50,251.66 L510.76,251.98 L511.01,252.29 L511.27,252.59 L511.52,252.89 L511.78,253.18 L512.04,253.47 L512.29,253.75 L512.55,254.02 L512.80,254.29 L513.06,254.56 L513.31,254.81 L513.57,255.06 L513.82,255.31 L514.08,255.55 L514.33,255.78 L514.59,256.01 L514.84,256.24 L515.10,256.46 L515.35,256.67 L515.61,256.88 L515.86,257.08 L516.12,257.28 L516.37,257.48 L516.63,257.67 L516.88,257.85 L517.14,258.03 L517.39,258.21 L517.65,258.38 L517.90,258.55 L518.16,258.71 L518.42,258.87 L518.67,259.02 L518.93,259.17 L519.18,259.32 L519.44,259.46 L519.69,259.60 L519.95,259.73 L520.20,259.86 L520.46,259.99 L520.71,260.11 L520.97,260.23 L521.22,260.35 L521.48,260.46 L521.73,260.57 L521.99,260.68 L522.24,260.78 L522.50,260.88 L522.75,260.98 L523.01,261.07 L523.26,261.17 L523.52,261.25 L523.77,261.34 L524.03,261.43 L524.28,261.51 L524.54,261.59 L525.82,261.95 L527.09,262.28 L528.37,262.57 L529.64,262.84 L530.92,263.09 L532.20,263.32 L533.47,263.53 L534.75,263.71 L536.02,263.86 L537.30,263.98 L538.58,264.08 L539.85,264.16 L541.13,264.21 L542.40,264.23 L543.68,264.24 L544.96,264.23 L546.23,264.21 L547.51,264.17 L548.78,264.11 L550.06,264.05 L551.34,263.98 L552.61,263.90 L553.89,263.81 L555.16,263.71 L556.44,263.61 L557.72,263.50 L558.99,263.39 L560.27,263.27 L561.54,263.15 L562.82,263.02 L564.10,262.90 L565.37,262.77 L566.65,262.63 L567.92,262.50 L569.20,262.37 L570.48,262.23 L571.75,262.09 L573.03,261.95 L574.30,261.81 L575.58,261.67 L576.86,261.53 L578.13,261.38 L579.41,261.24 L580.68,261.09 L581.96,260.94 L583.24,260.79 L584.51,260.64 L585.79,260.48 L587.06,260.33 L588.34,260.17 L589.62,260.00 L590.89,259.83 L592.17,259.66 L593.44,259.49 L594.72,259.31 L596.00,259.13 L597.27,258.95 L598.55,258.77 L599.82,258.58 L601.10,258.39 L602.38,258.20 L603.65,258.01 L604.93,257.83 L606.20,257.64 L607.48,257.45 L608.76,257.27 L610.03,257.08 L611.31,256.90 L612.58,256.72 L613.86,256.54 L615.14,256.36 L616.41,256.19 L617.69,256.01 L618.96,255.84 L620.24,255.67 L621.52,255.50 L622.79,255.33 L624.07,255.17 L625.34,255.00 L626.62,254.84 L627.90,254.68 L629.17,254.52 L630.45,254.36 L631.72,254.20 L633.00,254.05 L634.28,253.89 L635.55,253.74 L636.83,253.60 L638.10,253.45 L639.38,253.31 L640.66,253.16 L641.93,253.02 L643.21,252.89 L644.48,252.75 L645.76,252.62 L647.04,252.49 L648.31,252.36 L649.59,252.23 L650.86,252.11 L652.14,251.99 L653.42,251.86 L654.69,251.74 L655.97,251.63 L657.24,251.51 L658.52,251.39 L659.80,251.28 L661.07,251.17 L662.35,251.06 L663.62,250.94 L664.90,250.83 L666.18,250.72 L667.45,250.61 L668.73,250.50 L670.00,250.40 L671.28,250.29 L672.56,250.18 L673.83,250.07 L675.11,249.96 L676.38,249.85 L677.66,249.74 L678.94,249.64 L680.21,249.53 L681.49,249.42 L682.76,249.31 L684.04,249.20 L685.32,249.10 L686.59,248.99 L687.87,248.88 L689.14,248.78 L690.42,248.67 L691.70,248.57 L692.97,248.46 L694.25,248.36 L695.52,248.25 L696.80,248.15 L698.08,248.05 L699.35,247.95 L700.63,247.85 L701.90,247.76 L703.18,247.66 L704.46,247.56 L705.73,247.47 L707.01,247.38 L708.28,247.28 L709.56,247.19 L710.84,247.10 L712.11,247.02 L713.39,246.93 L714.66,246.84 L715.94,246.76 L717.22,246.67 L718.49,246.59 L719.77,246.51 L721.04,246.42 L722.32,246.34 L723.60,246.26 L724.87,246.19 L726.15,246.11 L727.42,246.03 L728.70,245.96 L729.98,245.88 L731.25,245.81 L732.53,245.74 L733.80,245.67 L735.08,245.60 L736.36,245.54 L737.63,245.47 L738.91,245.41 L740.18,245.34 L741.46,245.28 L742.74,245.22 L744.01,245.16 L745.29,245.10 L746.56,245.04 L747.84,244.99 L749.12,244.93 L750.39,244.88 L751.67,244.83 L752.94,244.77 L754.22,244.72 L755.50,244.67 L756.77,244.62 L758.05,244.57 L759.32,244.52 L760.60,244.47 L761.88,244.42 L763.15,244.37 L764.43,244.32 L765.70,244.27 L766.98,244.22 L768.26,244.17 L769.53,244.12 L770.81,244.08 L772.08,244.03 L773.36,243.98 L774.64,243.93 L775.91,243.88 L777.19,243.83 L778.46,243.78 L779.74,243.73 L781.02,243.68 L782.29,243.64 L783.57,243.59 L784.84,243.55 L786.12,243.51 L787.40,243.47 L788.67,243.43 L789.95,243.40 L791.22,243.37 L792.50,243.35" fill="none" stroke="#007f00" stroke-width="2.20" stroke-dasharray="11.80 2.83 4.44 2.83" stroke-dashoffset="9.70" clip-path="url(#cb)"/>
<rect x="73.45" y="30.05" width="311.20" height="233.25" stroke="#1a1a1a" stroke-width="1.25" fill="none"/>
<rect x="467.05" y="21.35" width="331.85" height="248.90" stroke="#1a1a1a" stroke-width="1.25" fill="none"/>
<rect x="270.60" y="45.15" width="102.25" height="76.65" stroke="#1a1a1a" stroke-width="1.40" fill="none"/>
<path d="M79.50,263.30 L79.50,259.30 M79.50,30.05 L79.50,34.05 M91.47,263.30 L91.47,261.00 M91.47,30.05 L91.47,32.35 M103.43,263.30 L103.43,261.00 M103.43,30.05 L103.43,32.35 M115.40,263.30 L115.40,261.00 M115.40,30.05 L115.40,32.35 M127.36,263.30 L127.36,261.00 M127.36,30.05 L127.36,32.35 M139.32,263.30 L139.32,259.30 M139.32,30.05 L139.32,34.05 M151.29,263.30 L151.29,261.00 M151.29,30.05 L151.29,32.35 M163.25,263.30 L163.25,261.00 M163.25,30.05 L163.25,32.35 M175.22,263.30 L175.22,261.00 M175.22,30.05 L175.22,32.35 M187.19,263.30 L187.19,261.00 M187.19,30.05 L187.19,32.35 M199.15,263.30 L199.15,259.30 M199.15,30.05 L199.15,34.05 M211.12,263.30 L211.12,261.00 M211.12,30.05 L211.12,32.35 M223.08,263.30 L223.08,261.00 M223.08,30.05 L223.08,32.35 M235.05,263.30 L235.05,261.00 M235.05,30.05 L235.05,32.35 M247.01,263.30 L247.01,261.00 M247.01,30.05 L247.01,32.35 M258.98,263.30 L258.98,259.30 M258.98,30.05 L258.98,34.05 M270.94,263.30 L270.94,261.00 M270.94,30.05 L270.94,32.35 M282.90,263.30 L282.90,261.00 M282.90,30.05 L282.90,32.35 M294.87,263.30 L294.87,261.00 M294.87,30.05 L294.87,32.35 M306.84,263.30 L306.84,261.00 M306.84,30.05 L306.84,32.35 M318.80,263.30 L318.80,259.30 M318.80,30.05 L318.80,34.05 M330.76,263.30 L330.76,261.00 M330.76,30.05 L330.76,32.35 M342.73,263.30 L342.73,261.00 M342.73,30.05 L342.73,32.35 M354.69,263.30 L354.69,261.00 M354.69,30.05 L354.69,32.35 M366.66,263.30 L366.66,261.00 M366.66,30.05 L366.66,32.35 M378.62,263.30 L378.62,259.30 M378.62,30.05 L378.62,34.05 M73.45,245.10 L77.45,245.10 M384.65,245.10 L380.65,245.10 M73.45,229.18 L74.75,229.18 M384.65,229.18 L383.35,229.18 M73.45,219.86 L74.75,219.86 M384.65,219.86 L383.35,219.86 M73.45,213.25 L74.75,213.25 M384.65,213.25 L383.35,213.25 M73.45,208.12 L74.75,208.12 M384.65,208.12 L383.35,208.12 M73.45,203.94 L74.75,203.94 M384.65,203.94 L383.35,203.94 M73.45,200.39 L74.75,200.39 M384.65,200.39 L383.35,200.39 M73.45,197.33 L74.75,197.33 M384.65,197.33 L383.35,197.33 M73.45,194.62 L74.75,194.62 M384.65,194.62 L383.35,194.62 M73.45,192.20 L77.45,192.20 M384.65,192.20 L380.65,192.20 M73.45,176.28 L74.75,176.28 M384.65,176.28 L383.35,176.28 M73.45,166.96 L74.75,166.96 M384.65,166.96 L383.35,166.96 M73.45,160.35 L74.75,160.35 M384.65,160.35 L383.35,160.35 M73.45,155.22 L74.75,155.22 M384.65,155.22 L383.35,155.22 M73.45,151.04 L74.75,151.04 M384.65,151.04 L383.35,151.04 M73.45,147.49 L74.75,147.49 M384.65,147.49 L383.35,147.49 M73.45,144.43 L74.75,144.43 M384.65,144.43 L383.35,144.43 M73.45,141.72 L74.75,141.72 M384.65,141.72 L383.35,141.72 M73.45,139.30 L77.45,139.30 M384.65,139.30 L380.65,139.30 M73.45,123.38 L74.75,123.38 M384.65,123.38 L383.35,123.38 M73.45,114.06 L74.75,114.06 M384.65,114.06 L383.35,114.06 M73.45,107.45 L74.75,107.45 M384.65,107.45 L383.35,107.45 M73.45,102.32 L74.75,102.32 M384.65,102.32 L383.35,102.32 M73.45,98.14 L74.75,98.14 M384.65,98.14 L383.35,98.14 M73.45,94.59 L74.75,94.59 M384.65,94.59 L383.35,94.59 M73.45,91.53 L74.75,91.53 M384.65,91.53 L383.35,91.53 M73.45,88.82 L74.75,88.82 M384.65,88.82 L383.35,88.82 M73.45,86.40 L77.45,86.40 M384.65,86.40 L380.65,86.40 M73.45,70.48 L74.75,70.48 M384.65,70.48 L383.35,70.48 M73.45,61.16 L74.75,61.16 M384.65,61.16 L383.35,61.16 M73.45,54.55 L74.75,54.55 M384.65,54.55 L383.35,54.55 M73.45,49.42 L74.75,49.42 M384.65,49.42 L383.35,49.42 M73.45,45.24 L74.75,45.24 M384.65,45.24 L383.35,45.24 M73.45,41.69 L74.75,41.69 M384.65,41.69 L383.35,41.69 M73.45,38.63 L74.75,38.63 M384.65,38.63 L383.35,38.63 M73.45,35.92 L74.75,35.92 M384.65,35.92 L383.35,35.92 M73.45,33.50 L77.45,33.50 M384.65,33.50 L380.65,33.50 M473.50,270.25 L473.50,266.25 M473.50,21.35 L473.50,25.35 M486.26,270.25 L486.26,267.95 M486.26,21.35 L486.26,23.65 M499.02,270.25 L499.02,267.95 M499.02,21.35 L499.02,23.65 M511.78,270.25 L511.78,267.95 M511.78,21.35 L511.78,23.65 M524.54,270.25 L524.54,267.95 M524.54,21.35 L524.54,23.65 M537.30,270.25 L537.30,266.25 M537.30,21.35 L537.30,25.35 M550.06,270.25 L550.06,267.95 M550.06,21.35 L550.06,23.65 M562.82,270.25 L562.82,267.95 M562.82,21.35 L562.82,23.65 M575.58,270.25 L575.58,267.95 M575.58,21.35 L575.58,23.65 M588.34,270.25 L588.34,267.95 M588.34,21.35 L588.34,23.65 M601.10,270.25 L601.10,266.25 M601.10,21.35 L601.10,25.35 M613.86,270.25 L613.86,267.95 M613.86,21.35 L613.86,23.65 M626.62,270.25 L626.62,267.95 M626.62,21.35 L626.62,23.65 M639.38,270.25 L639.38,267.95 M639.38,21.35 L639.38,23.65 M652.14,270.25 L652.14,267.95 M652.14,21.35 L652.14,23.65 M664.90,270.25 L664.90,266.25 M664.90,21.35 L664.90,25.35 M677.66,270.25 L677.66,267.95 M677.66,21.35 L677.66,23.65 M690.42,270.25 L690.42,267.95 M690.42,21.35 L690.42,23.65 M703.18,270.25 L703.18,267.95 M703.18,21.35 L703.18,23.65 M715.94,270.25 L715.94,267.95 M715.94,21.35 L715.94,23.65 M728.70,270.25 L728.70,266.25 M728.70,21.35 L728.70,25.35 M741.46,270.25 L741.46,267.95 M741.46,21.35 L741.46,23.65 M754.22,270.25 L754.22,267.95 M754.22,21.35 L754.22,23.65 M766.98,270.25 L766.98,267.95 M766.98,21.35 L766.98,23.65 M779.74,270.25 L779.74,267.95 M779.74,21.35 L779.74,23.65 M792.50,270.25 L792.50,266.25 M792.50,21.35 L792.50,25.35 M467.05,260.64 L469.35,260.64 M798.90,260.64 L796.60,260.64 M467.05,249.50 L471.05,249.50 M798.90,249.50 L794.90,249.50 M467.05,238.36 L469.35,238.36 M798.90,238.36 L796.60,238.36 M467.05,227.22 L469.35,227.22 M798.90,227.22 L796.60,227.22 M467.05,216.08 L469.35,216.08 M798.90,216.08 L796.60,216.08 M467.05,204.94 L469.35,204.94 M798.90,204.94 L796.60,204.94 M467.05,193.80 L471.05,193.80 M798.90,193.80 L794.90,193.80 M467.05,182.66 L469.35,182.66 M798.90,182.66 L796.60,182.66 M467.05,171.52 L469.35,171.52 M798.90,171.52 L796.60,171.52 M467.05,160.38 L469.35,160.38 M798.90,160.38 L796.60,160.38 M467.05,149.24 L469.35,149.24 M798.90,149.24 L796.60,149.24 M467.05,138.10 L471.05,138.10 M798.90,138.10 L794.90,138.10 M467.05,126.96 L469.35,126.96 M798.90,126.96 L796.60,126.96 M467.05,115.82 L469.35,115.82 M798.90,115.82 L796.60,115.82 M467.05,104.68 L469.35,104.68 M798.90,104.68 L796.60,104.68 M467.05,93.54 L469.35,93.54 M798.90,93.54 L796.60,93.54 M467.05,82.40 L471.05,82.40 M798.90,82.40 L794.90,82.40 M467.05,71.26 L469.35,71.26 M798.90,71.26 L796.60,71.26 M467.05,60.12 L469.35,60.12 M798.90,60.12 L796.60,60.12 M467.05,48.98 L469.35,48.98 M798.90,48.98 L796.60,48.98 M467.05,37.84 L469.35,37.84 M798.90,37.84 L796.60,37.84 M467.05,26.70 L471.05,26.70 M798.90,26.70 L794.90,26.70 M272.00,121.80 L272.00,120.20 M272.00,45.15 L272.00,46.75 M276.94,121.80 L276.94,120.55 M276.94,45.15 L276.94,46.40 M281.88,121.80 L281.88,120.55 M281.88,45.15 L281.88,46.40 M286.82,121.80 L286.82,120.55 M286.82,45.15 L286.82,46.40 M291.76,121.80 L291.76,120.55 M291.76,45.15 L291.76,46.40 M296.70,121.80 L296.70,120.20 M296.70,45.15 L296.70,46.75 M301.64,121.80 L301.64,120.55 M301.64,45.15 L301.64,46.40 M306.58,121.80 L306.58,120.55 M306.58,45.15 L306.58,46.40 M311.52,121.80 L311.52,120.55 M311.52,45.15 L311.52,46.40 M316.46,121.80 L316.46,120.55 M316.46,45.15 L316.46,46.40 M321.40,121.80 L321.40,120.20 M321.40,45.15 L321.40,46.75 M326.34,121.80 L326.34,120.55 M326.34,45.15 L326.34,46.40 M331.28,121.80 L331.28,120.55 M331.28,45.15 L331.28,46.40 M336.22,121.80 L336.22,120.55 M336.22,45.15 L336.22,46.40 M341.16,121.80 L341.16,120.55 M341.16,45.15 L341.16,46.40 M346.10,121.80 L346.10,120.20 M346.10,45.15 L346.10,46.75 M351.04,121.80 L351.04,120.55 M351.04,45.15 L351.04,46.40 M355.98,121.80 L355.98,120.55 M355.98,45.15 L355.98,46.40 M360.92,121.80 L360.92,120.55 M360.92,45.15 L360.92,46.40 M365.86,121.80 L365.86,120.55 M365.86,45.15 L365.86,46.40 M370.80,121.80 L370.80,120.20 M370.80,45.15 L370.80,46.75" stroke="#000" stroke-width="1.15" fill="none"/>
<path d="M95,165.40 L114.7,165.40" fill="none" stroke="#000000" stroke-width="1.20"/>
<path d="M95,189.90 L114.7,189.90" fill="none" stroke="#e00000" stroke-width="2.20" stroke-dasharray="5.25 2.52"/>
<path d="M95,214.30 L114.7,214.30" fill="none" stroke="#00008b" stroke-width="2.20" stroke-dasharray="11.8 2.83"/>
<path d="M95,240.20 L114.7,240.20" fill="none" stroke="#007f00" stroke-width="2.20" stroke-dasharray="11.8 2.83 4.44 2.83"/>
<g filter="url(#gray)">
<text x="70.20" y="38.30" font-family='"Liberation Serif", serif' font-size="19.40" text-anchor="end" fill="#000" >10</text>
<text x="70.20" y="91.20" font-family='"Liberation Serif", serif' font-size="19.40" text-anchor="end" fill="#000" >1</text>
<text x="70.20" y="144.10" font-family='"Liberation Serif", serif' font-size="19.40" text-anchor="end" fill="#000" >0.1</text>
<text x="70.20" y="197.00" font-family='"Liberation Serif", serif' font-size="19.40" text-anchor="end" fill="#000" >0.01</text>
<text x="70.20" y="249.90" font-family='"Liberation Serif", serif' font-size="19.40" text-anchor="end" fill="#000" >0.001</text>
<text x="79.50" y="281.90" font-family='"Liberation Serif", serif' font-size="19.40" text-anchor="middle" fill="#000" >0.0</text>
<text x="139.32" y="281.90" font-family='"Liberation Serif", serif' font-size="19.40" text-anchor="middle" fill="#000" >0.5</text>
<text x="199.15" y="281.90" font-family='"Liberation Serif", serif' font-size="19.40" text-anchor="middle" fill="#000" >1.0</text>
<text x="258.98" y="281.90" font-family='"Liberation Serif", serif' font-size="19.40" text-anchor="middle" fill="#000" >1.5</text>
<text x="318.80" y="281.90" font-family='"Liberation Serif", serif' font-size="19.40" text-anchor="middle" fill="#000" >2.0</text>
<text x="378.62" y="281.90" font-family='"Liberation Serif", serif' font-size="19.40" text-anchor="middle" fill="#000" >2.5</text>
<text x="473.50" y="287.70" font-family='"Liberation Serif", serif' font-size="19.40" text-anchor="middle" fill="#000" >0.0</text>
<text x="537.30" y="287.70" font-family='"Liberation Serif", serif' font-size="19.40" text-anchor="middle" fill="#000" >0.5</text>
<text x="601.10" y="287.70" font-family='"Liberation Serif", serif' font-size="19.40" text-anchor="middle" fill="#000" >1.0</text>
<text x="664.90" y="287.70" font-family='"Liberation Serif", serif' font-size="19.40" text-anchor="middle" fill="#000" >1.5</text>
<text x="728.70" y="287.70" font-family='"Liberation Serif", serif' font-size="19.40" text-anchor="middle" fill="#000" >2.0</text>
<text x="792.50" y="287.70" font-family='"Liberation Serif", serif' font-size="19.40" text-anchor="middle" fill="#000" >2.5</text>
<text x="463.40" y="31.60" font-family='"Liberation Serif", serif' font-size="19.40" text-anchor="end" fill="#000" >0</text>
<text x="463.40" y="87.30" font-family='"Liberation Serif", serif' font-size="19.40" text-anchor="end" fill="#000" ><tspan dy="1.9">−</tspan><tspan dx="1.6" dy="-1.9">1</tspan></text>
<text x="463.40" y="143.00" font-family='"Liberation Serif", serif' font-size="19.40" text-anchor="end" fill="#000" ><tspan dy="1.9">−</tspan><tspan dx="1.6" dy="-1.9">2</tspan></text>
<text x="463.40" y="198.70" font-family='"Liberation Serif", serif' font-size="19.40" text-anchor="end" fill="#000" ><tspan dy="1.9">−</tspan><tspan dx="1.6" dy="-1.9">3</tspan></text>
<text x="463.40" y="254.40" font-family='"Liberation Serif", serif' font-size="19.40" text-anchor="end" fill="#000" ><tspan dy="1.9">−</tspan><tspan dx="1.6" dy="-1.9">4</tspan></text>
<text x="193.40" y="307.60" font-family='"Liberation Serif", serif' font-size="19.40" font-style="italic" fill="#000">p</text>
<text x="203.80" y="310.90" font-family='"Liberation Serif", serif' font-size="13.4" font-style="italic" fill="#000">T</text>
<text x="217.00" y="307.60" font-family='"Liberation Serif", serif' font-size="19.40" fill="#000">[GeV]</text>
<text x="597.00" y="314.00" font-family='"Liberation Serif", serif' font-size="19.40" font-style="italic" fill="#000">p</text>
<text x="607.40" y="317.30" font-family='"Liberation Serif", serif' font-size="13.4" font-style="italic" fill="#000">T</text>
<text x="620.60" y="314.00" font-family='"Liberation Serif", serif' font-size="19.40" fill="#000">[GeV]</text>
<text x="229.00" y="19.50" font-family='"Liberation Serif", serif' font-size="15.60" text-anchor="middle" fill="#000" >(a)</text>
<text x="633.00" y="13.40" font-family='"Liberation Serif", serif' font-size="15.60" text-anchor="middle" fill="#000" >(b)</text>
<text transform="translate(14.8,146.4) rotate(-90)" font-family='"Liberation Serif", serif' font-size="19.25" text-anchor="middle" fill="#000">dN/<tspan font-style="italic">2π</tspan>p<tspan font-style="italic" font-size="14.2" dy="4.1">T</tspan><tspan font-size="7" dy="-7.4" dx="0.3">-</tspan><tspan dy="3.3" dx="0.2">dp</tspan><tspan font-style="italic" font-size="14.2" dy="4.1">T</tspan><tspan font-size="7" dy="-7.4" dx="0.3">-</tspan><tspan dy="3.3" dx="0.2">dy</tspan></text>
<text transform="translate(429.2,146) rotate(-90)" font-family='"Liberation Serif", serif' font-size="19.40" text-anchor="middle" fill="#000">Logarithmic Slope</text>
<text x="120.6" y="113.6" font-family='"Liberation Serif", serif' font-size="14.20" fill="#000"><tspan font-style="italic">π</tspan><tspan font-size="10.5" dy="-5.2" dx="1.3">0</tspan></text>
<text x="97.3" y="133.0" font-family='"Liberation Serif", serif' font-size="14.20" fill="#000" letter-spacing="0.85">4<tspan font-style="italic">πη</tspan>/s</text>
<text x="137.0" y="133.0" font-family='"Liberation Serif", serif' font-size="14.20" fill="#000">=</text>
<text x="150.4" y="133.0" font-family='"Liberation Serif", serif' font-size="14.20" fill="#000">3</text>
<text x="121.80" y="169.75" font-family='"Liberation Serif", serif' font-size="13.60" text-anchor="start" fill="#000" >Israel<tspan dx="0.4">−</tspan><tspan dx="1.2">Stewart</tspan></text>
<text x="121.80" y="194.70" font-family='"Liberation Serif", serif' font-size="13.60" text-anchor="start" fill="#000" >Israel<tspan dx="0.4">−</tspan><tspan dx="1.2">Stewart</tspan> (<tspan font-style="italic">δ</tspan><tspan font-style="italic" dx="2.2">f</tspan><tspan dx="2.6">=0)</tspan></text>
<text x="121.80" y="219.00" font-family='"Liberation Serif", serif' font-size="13.60" text-anchor="start" fill="#000" >Anisotropic Hydro</text>
<text x="121.80" y="244.80" font-family='"Liberation Serif", serif' font-size="13.60" text-anchor="start" fill="#000" >Anisotropic Hydro (iso)</text>
<text x="267.60" y="54.90" font-family='"Liberation Serif", serif' font-size="11.60" text-anchor="end" fill="#000" >9.</text>
<text x="267.60" y="66.44" font-family='"Liberation Serif", serif' font-size="11.60" text-anchor="end" fill="#000" >8.</text>
<text x="267.60" y="79.53" font-family='"Liberation Serif", serif' font-size="11.60" text-anchor="end" fill="#000" >7.</text>
<text x="267.60" y="94.64" font-family='"Liberation Serif", serif' font-size="11.60" text-anchor="end" fill="#000" >6.</text>
<text x="267.60" y="112.50" font-family='"Liberation Serif", serif' font-size="11.60" text-anchor="end" fill="#000" >5.</text>
<text x="272.00" y="133.40" font-family='"Liberation Serif", serif' font-size="11.60" text-anchor="middle" fill="#000" >0.00</text>
<text x="296.70" y="133.40" font-family='"Liberation Serif", serif' font-size="11.60" text-anchor="middle" fill="#000" >0.05</text>
<text x="321.40" y="133.40" font-family='"Liberation Serif", serif' font-size="11.60" text-anchor="middle" fill="#000" >0.10</text>
<text x="346.10" y="133.40" font-family='"Liberation Serif", serif' font-size="11.60" text-anchor="middle" fill="#000" >0.15</text>
<text x="370.80" y="133.40" font-family='"Liberation Serif", serif' font-size="11.60" text-anchor="middle" fill="#000" >0.20</text>
</g>
</svg>
</body></html>
